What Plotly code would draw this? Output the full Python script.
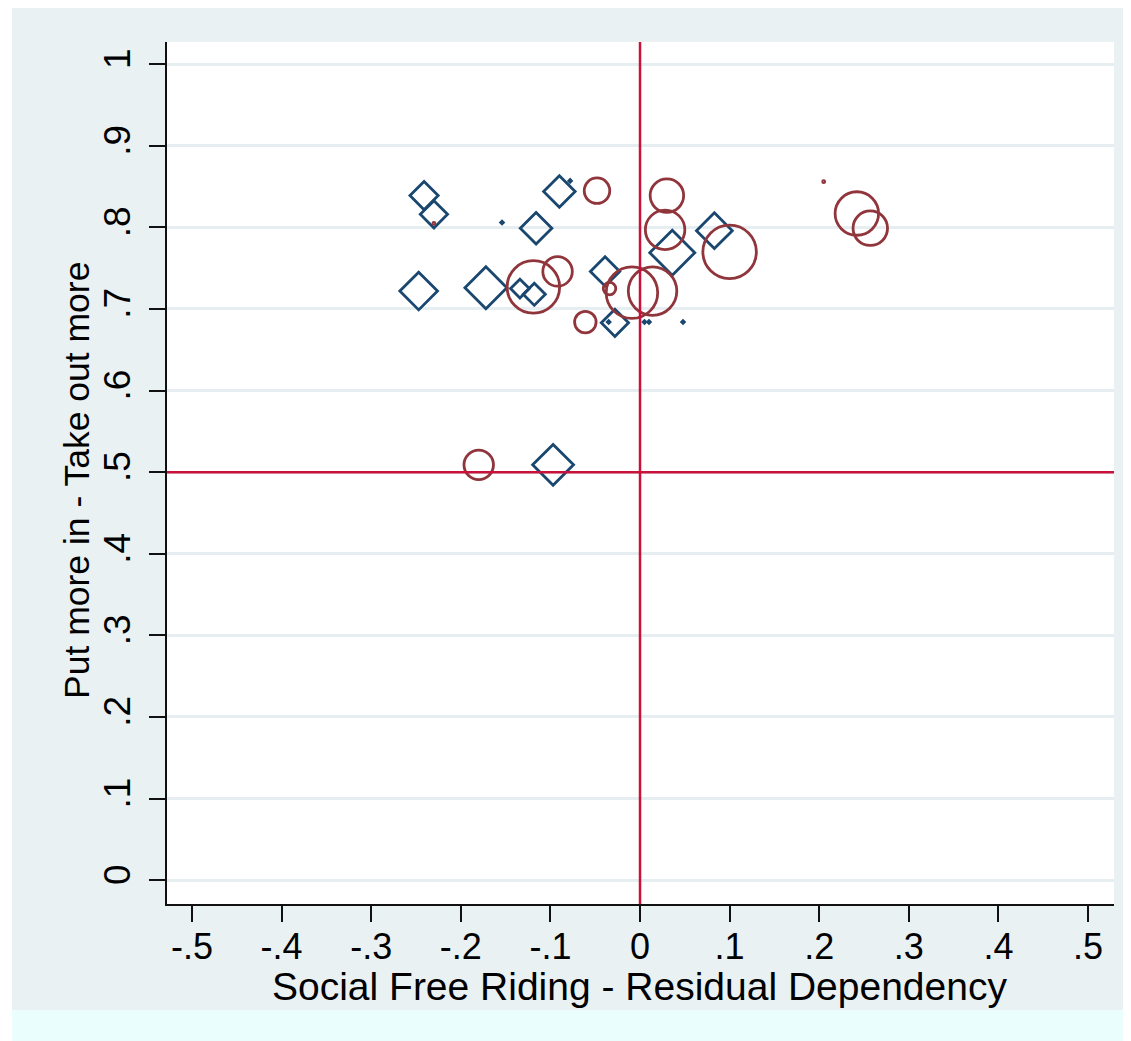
import plotly.graph_objects as go

# ---- data ----
blue_x = [-0.241, -0.230, -0.090, -0.116, -0.247, -0.172, -0.134, -0.118, -0.039, -0.028, 0.036, 0.083, -0.097,
          -0.078, -0.154, -0.035, 0.005, 0.010, 0.048]
blue_y = [0.839, 0.816, 0.844, 0.799, 0.722, 0.726, 0.725, 0.718, 0.746, 0.683, 0.769, 0.796, 0.509,
          0.857, 0.806, 0.684, 0.684, 0.684, 0.684]
blue_w = [4.7, 4.4, 5.9, 5.9, 8.4, 10.4, 2.1, 2.9, 5.1, 4.4, 12.0, 7.6, 9.9,
          0.0, 0.0, 0.0, 0.0, 0.0, 0.0]

red_x = [-0.048, 0.030, 0.028, 0.100, -0.119, -0.092, -0.034, -0.009, 0.014, -0.061, 0.242, 0.257, -0.180,
         -0.230, 0.205]
red_y = [0.845, 0.839, 0.797, 0.770, 0.727, 0.746, 0.725, 0.720, 0.722, 0.684, 0.817, 0.799, 0.509,
         0.805, 0.856]
red_w = [6.50, 11.22, 15.60, 28.62, 27.56, 8.70, 1.56, 26.52, 23.52, 4.62, 18.92, 11.90, 8.70,
         0.0, 0.0]

x_tickvals = [-0.5, -0.4, -0.3, -0.2, -0.1, 0, 0.1, 0.2, 0.3, 0.4, 0.5]
x_ticktext = ["-.5", "-.4", "-.3", "-.2", "-.1", "0", ".1", ".2", ".3", ".4", ".5"]
y_tickvals = [0, 0.1, 0.2, 0.3, 0.4, 0.5, 0.6, 0.7, 0.8, 0.9, 1.0]
y_ticktext = ["0", ".1", ".2", ".3", ".4", ".5", ".6", ".7", ".8", ".9", "1"]

x_title = "Social Free Riding - Residual Dependency"
y_title = "Put more in - Take out more"
x_ref = 0
y_ref = 0.5

# ---- layout constants (figure sits 8px into the page because of body margin) ----
OFF = 8
W, H = 1131 - OFF, 1041 - OFF
L, R, T, B = 167 - OFF, 1114 - OFF, 42 - OFF, 904 - OFF
BLUE = "#1a476f"
RED = "#90353b"
REFLINE = "#c8123c"
BG = "#eaf1f3"
GRID = "#e6eef1"
FONT = "Liberation Sans, Arial, sans-serif"


def px_x(p):
    return (p - OFF - L) / (R - L)


def px_y(p):
    return (B - (p - OFF)) / (B - T)


fig = go.Figure()

fig.add_trace(go.Scatter(
    x=blue_x, y=blue_y, mode="markers",
    marker=dict(symbol="diamond-open", size=[w if w > 0 else 0.005 for w in blue_w],
                sizemode="area", sizeref=0.02, sizemin=1, opacity=1,
                color=BLUE, line=dict(color=BLUE, width=2.8)),
    showlegend=False, hoverinfo="x+y"))

fig.add_trace(go.Scatter(
    x=red_x, y=red_y, mode="markers",
    marker=dict(symbol="circle-open", size=[w if w > 0 else 0.005 for w in red_w],
                sizemode="area", sizeref=0.02, sizemin=1, opacity=1,
                color=RED, line=dict(color=RED, width=2.8)),
    showlegend=False, hoverinfo="x+y"))

fig.add_vline(x=x_ref, line=dict(color=REFLINE, width=2.5), layer="above")
fig.add_hline(y=y_ref, line=dict(color=REFLINE, width=2.5), layer="above")

shapes = [
    dict(type="rect", xref="paper", yref="paper", x0=px_x(0), x1=px_x(12), y0=px_y(1041), y1=px_y(OFF),
         fillcolor="white", line=dict(width=0), layer="below"),
    dict(type="rect", xref="paper", yref="paper", x0=px_x(12), x1=px_x(1131), y0=px_y(1041), y1=px_y(1010),
         fillcolor="#ebfefe", line=dict(width=0), layer="below"),
]
for s in shapes:
    fig.add_shape(**s)

fig.add_annotation(text=x_title, xref="paper", yref="paper", x=px_x(639), y=px_y(986),
                   xanchor="center", yanchor="middle", showarrow=False,
                   font=dict(size=39, family=FONT, color="black"))
fig.add_annotation(text=y_title, xref="paper", yref="paper", x=px_x(77), y=px_y(481),
                   xanchor="center", yanchor="middle", showarrow=False, textangle=-90,
                   font=dict(size=35.5, family=FONT, color="black"))

fig.update_layout(
    width=W, height=H,
    margin=dict(l=L, r=W - R, t=T, b=H - B, pad=0),
    paper_bgcolor=BG, plot_bgcolor="white",
    font=dict(family=FONT, color="black", size=36),
    xaxis=dict(range=[-0.5279, 0.529], tickvals=x_tickvals, ticktext=x_ticktext,
               showgrid=False, zeroline=False, showline=True, linecolor="#111", linewidth=2,
               ticks="outside", ticklen=16, tickwidth=2, tickcolor="#111",
               tickfont=dict(size=36), ticklabelstandoff=-6),
    yaxis=dict(range=[-0.0292, 1.0272], tickvals=y_tickvals, ticktext=y_ticktext,
               showgrid=True, gridcolor=GRID, gridwidth=2.5, zeroline=False,
               showline=True, linecolor="#111", linewidth=2,
               ticks="outside", ticklen=16, tickwidth=2, tickcolor="#111",
               tickangle=-90, tickfont=dict(size=37), ticklabelstandoff=4),
)

fig.write_html("out.html")
